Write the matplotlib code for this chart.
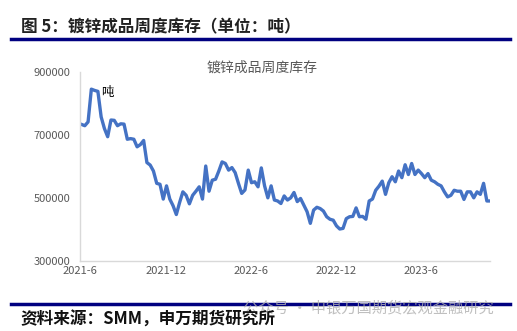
import numpy as np
import pandas as pd
import matplotlib
matplotlib.use("Agg")
import matplotlib.pyplot as plt
import matplotlib.dates as mdates

plt.rcParams['font.family'] = ['Noto Sans CJK SC', 'DejaVu Sans']

# 镀锌成品周度库存 (吨), weekly
stock = [
    733000, 729000, 741000, 845000, 841000, 838000, 757000, 720000, 694000, 747000,
    746000, 729000, 735000, 734000, 686000, 688000, 686000, 662000, 669000, 682000,
    612000, 604000, 585000, 546000, 543000, 496000, 538000, 496000, 475000, 447000,
    485000, 519000, 508000, 481000, 508000, 521000, 535000, 496000, 601000, 521000,
    556000, 559000, 585000, 614000, 609000, 588000, 596000, 580000, 546000, 514000,
    525000, 588000, 548000, 551000, 535000, 595000, 538000, 500000, 538000, 493000,
    490000, 482000, 506000, 493000, 500000, 517000, 488000, 498000, 477000, 456000,
    419000, 461000, 470000, 466000, 458000, 440000, 432000, 429000, 411000, 401000,
    403000, 434000, 440000, 441000, 468000, 440000, 441000, 432000, 490000, 496000,
    524000, 537000, 553000, 511000, 548000, 567000, 551000, 585000, 564000, 605000,
    574000, 609000, 574000, 588000, 577000, 564000, 577000, 556000, 551000, 543000,
    538000, 519000, 503000, 508000, 524000, 521000, 521000, 495000, 519000, 519000,
    500000, 519000, 511000, 546000, 490000, 490000,
]
dates = pd.date_range("2021-06-04", periods=len(stock), freq="7D")

tick_dates = pd.to_datetime(["2021-06-01", "2021-12-01", "2022-06-01", "2022-12-01", "2023-06-01"])
tick_labels = ["2021-6", "2021-12", "2022-6", "2022-12", "2023-6"]
y_ticks = [300000, 500000, 700000, 900000]

fig = plt.figure(figsize=(5.17, 3.31), dpi=100)
ax = fig.add_axes([0.155, 0.212, 0.793, 0.571])

ax.plot(dates, stock, color="#4472C4", linewidth=2.4)
ax.set_ylim(300000, 900000)
ax.set_xlim(pd.Timestamp("2021-06-01"), dates[-1])
ax.set_yticks(y_ticks)
ax.set_yticklabels([str(v) for v in y_ticks])
ax.set_xticks(tick_dates)
ax.set_xticklabels(tick_labels)
ax.tick_params(length=0, labelsize=8, colors="#595959")
ax.tick_params(axis="y", pad=7)
ax.tick_params(axis="x", pad=4)
for side in ["top", "right"]:
    ax.spines[side].set_visible(False)
for side in ["left", "bottom"]:
    ax.spines[side].set_color("#d9d9d9")
    ax.spines[side].set_linewidth(1.0)

# chart title sits a little left of the plot centre
fig.text(0.507, 0.797, "镀锌成品周度库存", ha="center", va="center",
         fontsize=10, color="#595959")
ax.text(0.05, 0.89, "吨", transform=ax.transAxes, ha="left", va="center",
        fontsize=9, color="black")

# header and footer
fig.text(0.04, 0.918, "图 5：镀锌成品周度库存（单位：吨）", ha="left", va="center",
         fontsize=12, fontweight="bold", color="#222222")
fig.add_artist(plt.Line2D([0.021, 0.986], [0.882, 0.882], color="#000080", linewidth=2.5))
fig.add_artist(plt.Line2D([0.021, 0.986], [0.083, 0.083], color="#000080", linewidth=2.5))
fig.text(0.47, 0.07, "公众号 · 申银万国期货宏观金融研究", ha="left", va="center",
         fontsize=11, color="#b0b0b0", alpha=0.8)
fig.text(0.04, 0.035, "资料来源：SMM，申万期货研究所", ha="left", va="center",
         fontsize=12, fontweight="bold", color="#111111")

fig.savefig("out.png", dpi=100)
